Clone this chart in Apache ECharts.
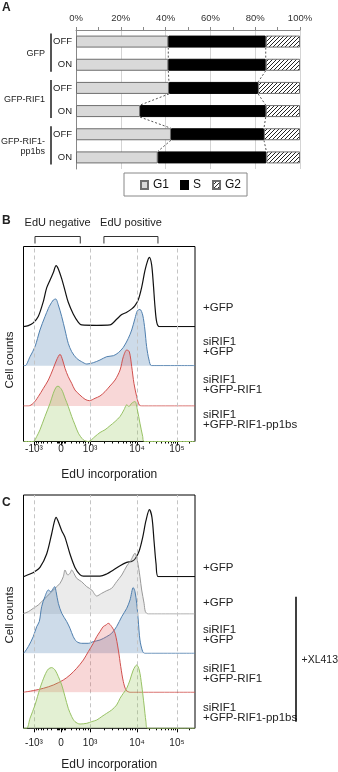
<!DOCTYPE html>
<html>
<head>
<meta charset="utf-8">
<script src="https://cdn.jsdelivr.net/npm/echarts@6/dist/echarts.min.js"></script>
<style>
  html, body { margin: 0; padding: 0; background: #fff; }
  #chart { width: 338px; height: 772px; }
</style>
</head>
<body>
<div id="chart"></div>
<script>
// ---- panel A: cell cycle distribution (%) ----
const rowLabels = ['OFF', 'ON', 'OFF', 'ON', 'OFF', 'ON'];
const groupLabels = ['GFP', 'GFP-RIF1', 'GFP-RIF1-\npp1bs'];
const groupRows = [[0, 1], [2, 3], [4, 5]];
const g1 = [41.2, 41.2, 41.5, 28.6, 42.4, 36.5];
const sPhase = [43.5, 43.5, 39.8, 56.1, 41.5, 48.5];
const g2 = [15.3, 15.3, 18.7, 15.3, 16.1, 15.0];

// ---- panels B / C: EdU histograms ----
// x = display channel (0-100 across the plot), y = cell counts
const tickValues = [-1000, 0, 1000, 10000, 100000];
const tickLabels = ['-10³', '0', '10³', '10⁴', '10⁵'];
const gridValues = [-1000, 1000, 10000, 100000];
const gateNames = ['EdU negative', 'EdU positive'];
const gateRanges = [[6.7, 33.1], [46.9, 78.4]];

const B_GFP = [[0,0],[2.8,10],[5.7,37],[8.6,100],[11.6,253],[13.5,387],[15.5,467],[17.4,540],[19.0,610],[20.3,577],[22.3,477],[24.2,360],[26.1,243],[29.0,127],[32.0,43],[33.9,17],[42.7,13],[50.4,17],[54.3,73],[57.3,120],[60.2,143],[63.1,177],[65.0,210],[66.9,267],[68.9,393],[70.8,560],[72.4,660],[73.4,693],[74.7,620],[75.7,427],[76.7,193],[77.7,43],[79.2,0],[100,0]];
const B_siGFP = [[0,0],[0.9,0],[3.8,90],[6.7,190],[9.6,357],[12.5,490],[14.5,573],[15.5,607],[17.4,657],[18.8,667],[20.3,607],[22.3,490],[24.2,357],[26.1,223],[28.1,140],[31.0,73],[33.9,40],[36.9,17],[40.7,30],[44.6,57],[48.5,90],[52.4,100],[55.3,130],[58.2,183],[61.1,273],[63.1,357],[65.0,473],[66.4,550],[67.9,563],[69.5,507],[70.8,357],[71.8,190],[73.2,57],[74.7,0],[100,0]];
const B_siRIF1 = [[0,0],[2.8,0],[5.7,27],[8.6,93],[11.6,177],[14.5,260],[17.4,377],[19.3,460],[21.3,517],[22.8,460],[24.2,377],[26.1,293],[28.1,227],[30.0,160],[32.9,110],[35.9,67],[38.4,53],[41.7,77],[44.6,100],[47.5,143],[50.4,200],[53.4,260],[56.3,360],[58.2,493],[60.2,560],[61.7,543],[63.1,393],[64.4,227],[66.0,93],[67.5,10],[68.9,0],[100,0]];
const B_siPP = [[0,0],[5.7,0],[7.7,50],[9.6,117],[12.5,250],[15.5,383],[17.4,483],[19.0,543],[20.1,553],[22.3,517],[24.2,433],[26.1,350],[28.1,250],[30.0,167],[32.0,83],[34.9,17],[37.8,0],[41.7,50],[44.6,90],[47.5,117],[50.4,157],[53.4,200],[56.3,250],[58.6,317],[60.2,367],[61.5,350],[63.1,383],[65.0,400],[66.4,317],[67.9,183],[69.5,50],[70.3,0],[100,0]];

const C_GFP = [[0,0],[3.8,27],[6.7,53],[9.6,93],[13.5,227],[16.4,427],[18.0,550],[19.0,593],[20.3,550],[22.3,460],[24.2,393],[27.1,227],[30.0,93],[32.9,20],[34.9,5],[44.6,5],[48.5,27],[52.4,67],[56.3,110],[60.2,143],[63.1,153],[65.0,177],[67.5,260],[69.5,393],[71.4,560],[73.4,670],[74.9,593],[76.1,360],[77.3,127],[78.6,0],[100,0]];
const C_GFP_XL = [[0,5],[2.8,23],[5.7,57],[8.6,90],[11.6,140],[15.5,207],[18.4,257],[21.3,307],[23.2,373],[24.2,440],[25.8,390],[27.1,407],[28.1,440],[29.4,407],[31.0,357],[33.9,323],[36.9,273],[39.8,240],[42.7,180],[45.6,207],[48.5,233],[51.4,257],[54.3,323],[57.3,390],[60.2,480],[62.5,533],[65.0,607],[66.4,533],[67.9,373],[68.9,240],[70.3,107],[71.1,23],[72.8,0],[100,0]];
const C_siGFP = [[0,0],[0.9,17],[2.8,67],[5.7,167],[7.7,267],[9.2,317],[10.6,467],[12.5,567],[14.5,633],[15.9,617],[17.4,650],[18.2,667],[19.0,617],[20.3,500],[22.3,400],[25.2,317],[27.1,250],[29.0,167],[31.0,117],[33.9,100],[37.8,100],[40.7,117],[44.6,133],[48.5,167],[51.4,200],[54.3,267],[57.3,367],[60.2,450],[62.1,533],[64.0,657],[65.0,617],[66.0,500],[66.9,333],[67.9,133],[69.5,17],[70.8,0],[100,0]];
const C_siRIF1 = [[0,0],[5.7,17],[11.6,40],[17.4,73],[23.2,123],[27.1,173],[31.0,240],[34.9,323],[37.8,407],[40.7,490],[42.7,557],[44.6,607],[46.5,657],[48.1,673],[49.4,690],[51.4,657],[53.4,590],[55.3,423],[56.7,257],[58.2,107],[59.8,23],[62.1,0],[100,0]];
const C_siPP = [[0,0],[1.9,0],[3.8,100],[6.7,233],[9.6,400],[12.5,533],[14.5,593],[16.4,607],[18.4,583],[20.3,517],[22.3,433],[24.2,317],[26.1,200],[28.1,117],[30.0,67],[32.9,43],[36.9,50],[39.8,67],[42.7,83],[45.6,117],[48.5,150],[51.4,183],[54.3,233],[56.3,300],[58.2,350],[60.2,400],[62.1,483],[64.0,583],[66.0,633],[67.5,583],[68.9,433],[70.3,233],[71.4,67],[72.4,0],[100,0]];

const FONT = '"Liberation Sans", Arial, sans-serif';
const NARROW = '"Liberation Sans Narrow", "Arial Narrow", "Liberation Sans", Arial, sans-serif';

// biexponential-like placement of tick values on the display channel
function chan(v) {
  if (v < 0) return 21.9 - (chan(-v) - 21.9) * 15.8 / 16.9;
  if (v >= 10000) return 66.2 + 23.3 * Math.log10(v / 10000);
  if (v >= 300) return 38.8 + 27.4 * Math.log10(v / 1000);
  return 21.9 + v / 300 * (chan(300) - 21.9);
}
const tickChannels = tickValues.map(chan);
const gridChannels = gridValues.map(chan);
const minorChannels = [];
for (let k = 1; k <= 9; k++) { minorChannels.push(chan(k * 100), chan(-k * 100)); }
[1000, 10000].forEach(d => { for (let k = 2; k <= 9; k++) minorChannels.push(chan(k * d)); });
minorChannels.push(chan(200000));

function tickText(v) {
  let best = 0;
  tickChannels.forEach((c, i) => { if (Math.abs(c - v) < Math.abs(tickChannels[best] - v)) best = i; });
  return tickLabels[best];
}

// hatch pattern for G2
function hatch() {
  const c = document.createElement('canvas');
  c.width = 4; c.height = 4;
  const ctx = c.getContext('2d');
  ctx.fillStyle = '#fff'; ctx.fillRect(0, 0, 4, 4);
  ctx.strokeStyle = '#222'; ctx.lineWidth = 1;
  ctx.beginPath();
  ctx.moveTo(0, 4); ctx.lineTo(4, 0);
  ctx.moveTo(-1, 1); ctx.lineTo(1, -1);
  ctx.moveTo(3, 5); ctx.lineTo(5, 3);
  ctx.stroke();
  return c;
}

const grids = [], xAxes = [], yAxes = [], series = [];

// ---------- panel A ----------
grids.push({ left: 76, top: 30, width: 224, height: 139 });
xAxes.push({
  gridIndex: 0, type: 'value', position: 'top', min: 0, max: 100, interval: 20,
  axisLine: { show: true, lineStyle: { color: '#888' } },
  axisTick: { show: true, length: 3, lineStyle: { color: '#888' } },
  minorTick: { show: true, splitNumber: 2, length: 3, lineStyle: { color: '#888' } },
  splitLine: { show: true, lineStyle: { color: '#d4d4d4' } },
  axisLabel: { formatter: '{value}%', fontSize: 9.5, color: '#333', margin: 7, fontFamily: FONT }
});
yAxes.push({
  gridIndex: 0, type: 'category', inverse: true, data: rowLabels,
  axisLine: { show: true, lineStyle: { color: '#888' } },
  axisTick: { show: false },
  axisLabel: { fontSize: 9.5, color: '#222', margin: 4, fontFamily: FONT }
});
const hatchImg = hatch();
series.push(
  { name: 'G1', type: 'bar', stack: 'a', barWidth: 12, data: g1, xAxisIndex: 0, yAxisIndex: 0,
    itemStyle: { color: '#d9d9d9', borderColor: '#6e6e6e', borderWidth: 1 } },
  { name: 'S', type: 'bar', stack: 'a', barWidth: 12, data: sPhase, xAxisIndex: 0, yAxisIndex: 0,
    itemStyle: { color: '#000', borderColor: '#000', borderWidth: 1 } },
  { name: 'G2', type: 'bar', stack: 'a', barWidth: 12, data: g2, xAxisIndex: 0, yAxisIndex: 0,
    itemStyle: { color: { image: hatchImg, repeat: 'repeat' }, borderColor: '#6e6e6e', borderWidth: 1 } }
);
// series lines between consecutive bars
const g1End = g1.slice();
const sEnd = g1.map((v, i) => v + sPhase[i]);
series.push({
  type: 'custom', xAxisIndex: 0, yAxisIndex: 0, silent: true, clip: false, z: 5,
  data: g1.slice(0, -1).map((v, i) => [v, i]),
  renderItem(params, api) {
    const i = params.dataIndex;
    const half = 6;
    const children = [g1End, sEnd].map(ends => {
      const p0 = api.coord([ends[i], i]);
      const p1 = api.coord([ends[i + 1], i + 1]);
      return { type: 'line', shape: { x1: p0[0], y1: p0[1] + half, x2: p1[0], y2: p1[1] - half },
        style: { stroke: '#555', lineWidth: 1, lineDash: [2, 2] } };
    });
    return { type: 'group', children };
  }
});
// group labels with brackets
series.push({
  type: 'custom', xAxisIndex: 0, yAxisIndex: 0, silent: true, clip: false,
  data: groupRows.map(r => [0, r[0]]),
  renderItem(params, api) {
    const r = groupRows[params.dataIndex];
    const y0 = api.coord([0, r[0]])[1] - 8;
    const y1 = api.coord([0, r[1]])[1] + 7;
    const bx = params.coordSys.x - 25;
    return { type: 'group', children: [
      { type: 'line', shape: { x1: bx, y1: y0, x2: bx, y2: y1 }, style: { stroke: '#555', lineWidth: 2 } },
      { type: 'text', x: bx - 6, y: (y0 + y1) / 2 + 1,
        style: { text: groupLabels[params.dataIndex], align: 'right', verticalAlign: 'middle',
          fontSize: 9, lineHeight: 10, fontFamily: FONT, fill: '#222' } }
    ] };
  }
});

// ---------- panels B and C ----------
function addHistPanel(box, baselines, ridges, withGates, labelMargin, nameGap) {
  const gi = grids.length;
  grids.push({ left: box.left, top: box.top, width: box.width, height: box.height,
    show: true, borderColor: '#000', borderWidth: 1, backgroundColor: 'transparent' });
  const xi = xAxes.length;
  xAxes.push({
    gridIndex: gi, type: 'value', min: 0, max: 100, position: 'bottom',
    axisLine: { show: false }, splitLine: { show: false },
    axisTick: { show: true, customValues: tickChannels, length: 4, lineStyle: { color: '#000' } },
    axisLabel: { show: true, customValues: tickChannels, formatter: v => tickText(v),
      fontSize: 10, color: '#222', margin: labelMargin, fontFamily: FONT },
    name: 'EdU incorporation', nameLocation: 'middle', nameGap: nameGap,
    nameTextStyle: { fontSize: 12, color: '#222', fontFamily: FONT }
  });
  xAxes.push({
    gridIndex: gi, type: 'value', min: 0, max: 100, position: 'bottom',
    axisLine: { show: false }, splitLine: { show: false }, axisLabel: { show: false },
    axisTick: { show: true, customValues: minorChannels, length: 2, lineStyle: { color: '#000' } }
  });
  const yi = yAxes.length;
  yAxes.push({ gridIndex: gi, type: 'value', min: 0, max: 1, show: false });
  series.push({
    type: 'line', xAxisIndex: xi, yAxisIndex: yi, data: [[0, 0]], symbol: 'none', silent: true,
    lineStyle: { opacity: 0 }, z: 1,
    markLine: { silent: true, symbol: 'none', label: { show: false },
      lineStyle: { type: [4, 3], color: '#c4c4c4', width: 1 },
      data: gridChannels.map(v => ({ xAxis: v })) }
  });
  if (withGates) {
    series.push({
      type: 'custom', xAxisIndex: xi, yAxisIndex: yi, silent: true, clip: false,
      data: gateRanges.map(g => [g[0], 0, g[1]]),
      renderItem(params, api) {
        const x0 = api.coord([api.value(0), 0])[0];
        const x1 = api.coord([api.value(2), 0])[0];
        const yb = params.coordSys.y - 10;
        return { type: 'group', children: [
          { type: 'polyline', shape: { points: [[x0, yb + 7], [x0, yb], [x1, yb], [x1, yb + 7]] },
            style: { stroke: '#333', fill: null, lineWidth: 1 } },
          { type: 'text', x: (x0 + x1) / 2, y: yb - 14,
            style: { text: gateNames[params.dataIndex], align: 'center', verticalAlign: 'middle',
              fontSize: 11, fontFamily: FONT, fill: '#222' } }
        ] };
      }
    });
  }
  ridges.forEach((r, k) => {
    const h = baselines[k] - box.top;
    const g = grids.length;
    grids.push({ left: box.left, top: box.top, width: box.width, height: h });
    const rx = xAxes.length, ry = yAxes.length;
    xAxes.push({ gridIndex: g, type: 'value', min: 0, max: 100, show: false });
    yAxes.push({ gridIndex: g, type: 'value', min: 0, max: h * 10, show: false });
    series.push({
      type: 'line', xAxisIndex: rx, yAxisIndex: ry, data: r.data, smooth: 0.3,
      symbol: 'none', silent: true, z: 2 + k,
      lineStyle: { color: r.line, width: r.width || 1 },
      areaStyle: r.fill ? { color: r.fill, origin: 'start' } : undefined
    });
  });
}

const BLACK = { line: '#111', width: 1.2 };
const GREY = { line: '#999', fill: 'rgba(165,165,165,0.32)' };
const BLUE = { line: '#4f7fae', fill: 'rgba(75,125,175,0.4)' };
const RED = { line: '#d0504e', fill: 'rgba(225,90,90,0.35)' };
const GREEN = { line: '#98c265', fill: 'rgba(150,200,90,0.38)' };

addHistPanel({ left: 23.5, top: 246.5, width: 171.5, height: 195 },
  [326.6, 365.7, 406, 441.5],
  [{ ...BLACK, data: B_GFP }, { ...BLUE, data: B_siGFP }, { ...RED, data: B_siRIF1 }, { ...GREEN, data: B_siPP }],
  true, 3, 27);
addHistPanel({ left: 23.5, top: 495, width: 171.5, height: 233.3 },
  [576.7, 614, 653.3, 692.3, 728.3],
  [{ ...BLACK, data: C_GFP }, { ...GREY, data: C_GFP_XL }, { ...BLUE, data: C_siGFP },
   { ...RED, data: C_siRIF1 }, { ...GREEN, data: C_siPP }],
  false, 10, 30);

// ---------- annotations ----------
function label(x, y, text, extra) {
  return { type: 'text', x, y, silent: true,
    style: Object.assign({ text, fontSize: 11.5, lineHeight: 10, fontFamily: FONT, fill: '#222',
      align: 'left', verticalAlign: 'middle' }, extra || {}) };
}
const graphic = [
  label(2, 8, 'A', { fontSize: 12, fontWeight: 'bold' }),
  label(2, 221, 'B', { fontSize: 12, fontWeight: 'bold' }),
  label(2, 503, 'C', { fontSize: 12, fontWeight: 'bold' }),
  Object.assign(label(10, 360, 'Cell counts', { fontSize: 11.5, align: 'center' }), { rotation: Math.PI / 2 }),
  Object.assign(label(10, 615, 'Cell counts', { fontSize: 11.5, align: 'center' }), { rotation: Math.PI / 2 }),
  label(203, 308.3, '+GFP'),
  label(203, 346.5, 'siRIF1\n+GFP'),
  label(203, 385, 'siRIF1\n+GFP-RIF1'),
  label(203, 419.5, 'siRIF1\n+GFP-RIF1-pp1bs'),
  label(203, 568.3, '+GFP'),
  label(203, 603.3, '+GFP'),
  label(203, 635.3, 'siRIF1\n+GFP'),
  label(203, 674.3, 'siRIF1\n+GFP-RIF1'),
  label(203, 713.3, 'siRIF1\n+GFP-RIF1-pp1bs'),
  { type: 'line', silent: true, shape: { x1: 296, y1: 596.7, x2: 296, y2: 721.7 },
    style: { stroke: '#000', lineWidth: 1.5 } },
  label(338, 660, '+XL413', { align: 'right', fontSize: 10.5 })
];

const chart = echarts.init(document.getElementById('chart'));
chart.setOption({
  animation: false,
  backgroundColor: '#fff',
  grid: grids,
  xAxis: xAxes,
  yAxis: yAxes,
  legend: {
    data: ['G1', 'S', 'G2'], left: 124, top: 173,
    borderColor: '#888', borderWidth: 1, padding: [6, 6, 5, 16], itemGap: 11,
    itemWidth: 7, itemHeight: 8, icon: 'rect',
    textStyle: { fontSize: 12, color: '#111', fontFamily: NARROW }
  },
  series,
  graphic
});
</script>
</body>
</html>
